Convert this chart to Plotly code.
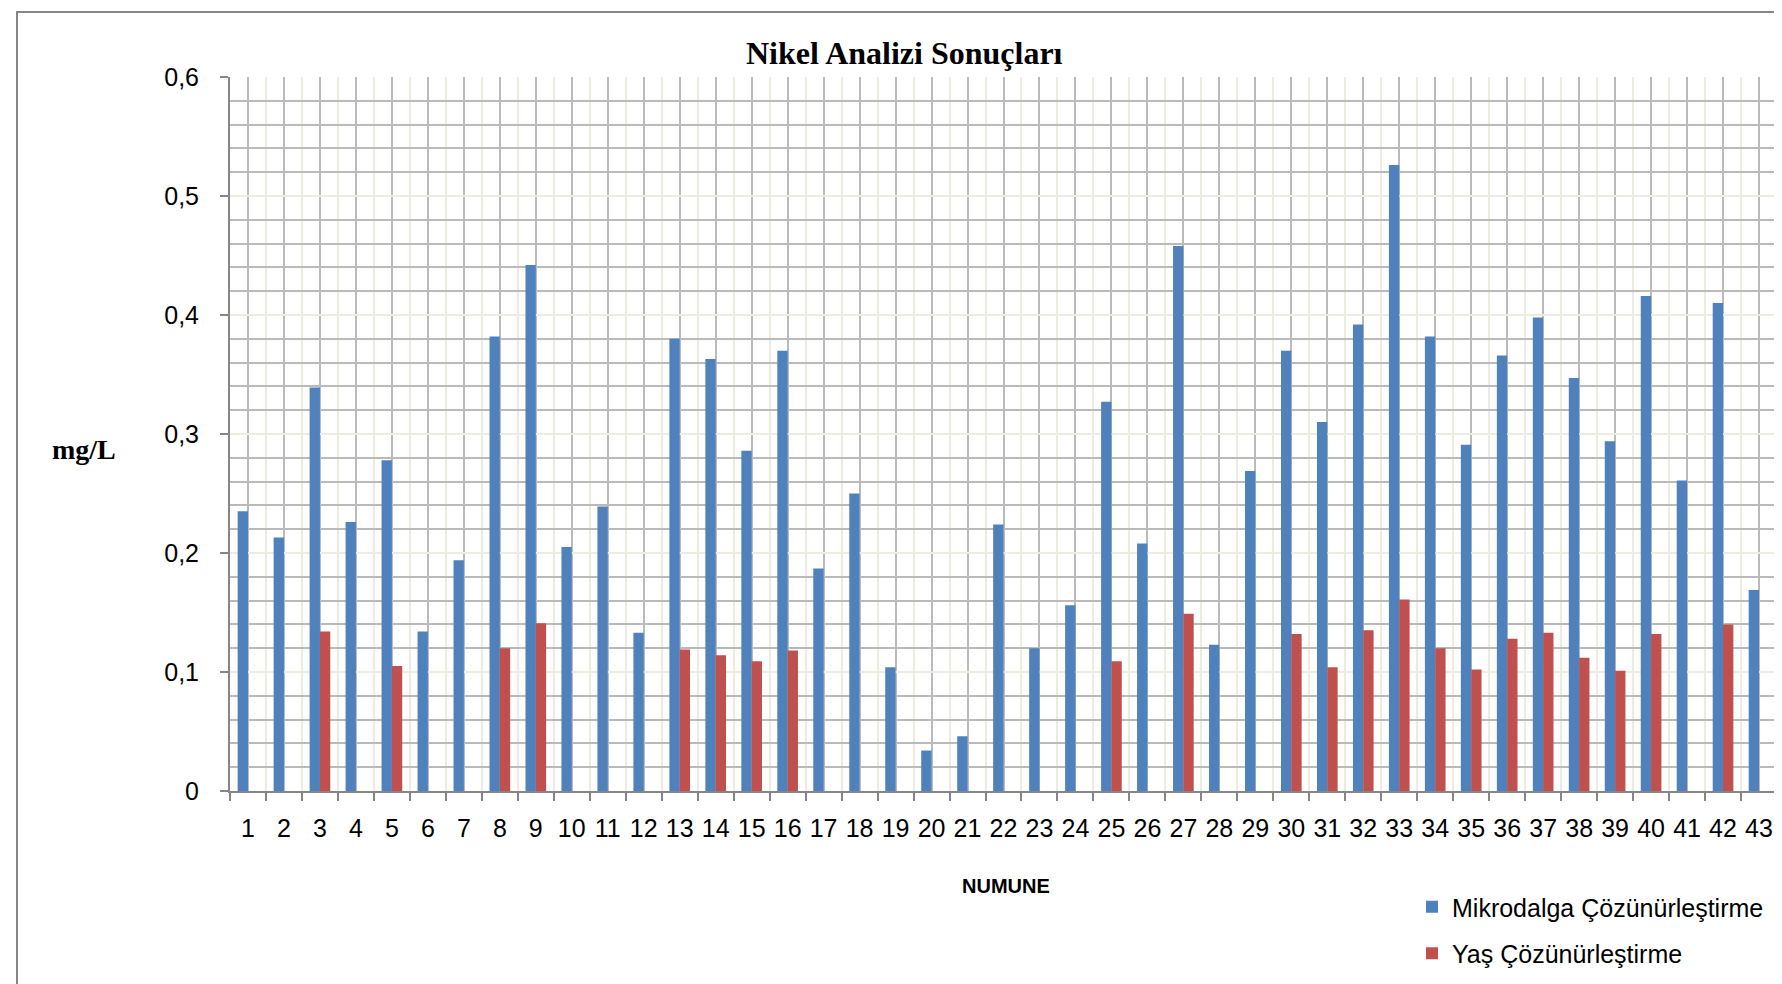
import plotly.graph_objects as go

# ---- data ----
samples = list(range(1, 44))
tick_labels = [str(s) for s in samples]
mikrodalga = [0.235, 0.213, 0.339, 0.226, 0.278, 0.134, 0.194, 0.382, 0.442, 0.205,
              0.239, 0.133, 0.380, 0.363, 0.286, 0.370, 0.187, 0.250, 0.104, 0.034,
              0.046, 0.224, 0.120, 0.156, 0.327, 0.208, 0.458, 0.123, 0.269, 0.370,
              0.310, 0.392, 0.526, 0.382, 0.291, 0.366, 0.398, 0.347, 0.294, 0.416,
              0.261, 0.410, 0.169]
yas = [None, None, 0.134, None, 0.105, None, None, 0.120, 0.141, None,
       None, None, 0.119, 0.114, 0.109, 0.118, None, None, None, None,
       None, None, None, None, 0.109, None, 0.149, None, None, 0.132,
       0.104, 0.135, 0.161, 0.120, 0.102, 0.128, 0.133, 0.112, 0.101, 0.132,
       None, 0.140, None]
series_names = ["Mikrodalga Çözünürleştirme", "Yaş Çözünürleştirme"]
y_ticks = [0, 0.1, 0.2, 0.3, 0.4, 0.5, 0.6]

# ---- layout geometry (pixels) ----
W, H = 1782, 984
L, R, T, B = 222, 13, 69, 201
PW, PH = W - L - R, H - T - B


def px(x):
    return (x - L) / PW


def py(y):
    return (H - B - y) / PH


BLUE = "#4F81BD"
RED = "#C0504D"
GRID_DARK = "#BABABA"
GRID_LIGHT = "#EEECE1"
AXIS = "#868686"
TICKFONT = dict(family="Liberation Sans", size=25, color="black")

fig = go.Figure()
fig.add_trace(go.Bar(x=samples, y=mikrodalga, name=series_names[0],
                     marker=dict(color=BLUE, line=dict(width=0)),
                     legendgroup="a"))
fig.add_trace(go.Bar(x=samples, y=yas, name=series_names[1],
                     marker=dict(color=RED, line=dict(width=0)),
                     legendgroup="b"))

fig.update_layout(
    width=W, height=H,
    margin=dict(l=L, r=R, t=T, b=B, autoexpand=False),
    paper_bgcolor="white", plot_bgcolor="white",
    barmode="group", bargap=0.426, bargroupgap=0,
    separators=", ",
    showlegend=True,
    legend=dict(x=px(1404), y=py(876), xanchor="left", yanchor="top",
                font=dict(family="Liberation Sans", size=25, color="black"),
                tracegroupgap=11, bgcolor="rgba(0,0,0,0)"),
    xaxis=dict(
        range=[0.5, 43.5], tickmode="array", tickvals=samples, ticktext=tick_labels,
        ticks="", showgrid=True, gridcolor=GRID_DARK, gridwidth=2,
        showline=True, linecolor=AXIS, linewidth=2, zeroline=False,
        tickfont=TICKFONT, ticklabelstandoff=14,
        minor=dict(tickmode="array", tickvals=[i + 0.5 for i in range(0, 44)],
                   ticks="outside", ticklen=8, tickcolor=AXIS, tickwidth=2,
                   showgrid=True, gridcolor=GRID_LIGHT, gridwidth=1.5),
        fixedrange=True,
    ),
    yaxis=dict(
        range=[0, 0.6], tickmode="array", tickvals=y_ticks,
        ticks="outside", ticklen=8, tickcolor=AXIS, tickwidth=2,
        showgrid=True, gridcolor=GRID_LIGHT, gridwidth=1.5,
        showline=True, linecolor=AXIS, linewidth=2, zeroline=False,
        tickfont=TICKFONT, ticklabelstandoff=16,
        minor=dict(dtick=0.02, tick0=0, ticks="", showgrid=True,
                   gridcolor=GRID_DARK, gridwidth=2),
        fixedrange=True,
    ),
    shapes=[dict(type="rect", xref="paper", yref="paper",
                 x0=px(9), x1=px(1780), y0=py(982), y1=py(4),
                 line=dict(color=AXIS, width=2), fillcolor="rgba(0,0,0,0)",
                 layer="below")],
    annotations=[
        dict(text="<b>Nikel Analizi Sonuçları</b>", xref="paper", yref="paper",
             x=px(896), y=py(45), xanchor="center", yanchor="middle", showarrow=False,
             font=dict(family="Liberation Serif", size=32, color="black")),
        dict(text="<b>mg/L</b>", xref="paper", yref="paper",
             x=px(76), y=py(442), xanchor="center", yanchor="middle", showarrow=False,
             font=dict(family="Liberation Serif", size=28, color="black")),
        dict(text="<b>NUMUNE</b>", xref="paper", yref="paper",
             x=px(998), y=py(878), xanchor="center", yanchor="middle", showarrow=False,
             font=dict(family="Liberation Sans", size=20, color="black")),
    ],
)

fig.write_html("out.html")
